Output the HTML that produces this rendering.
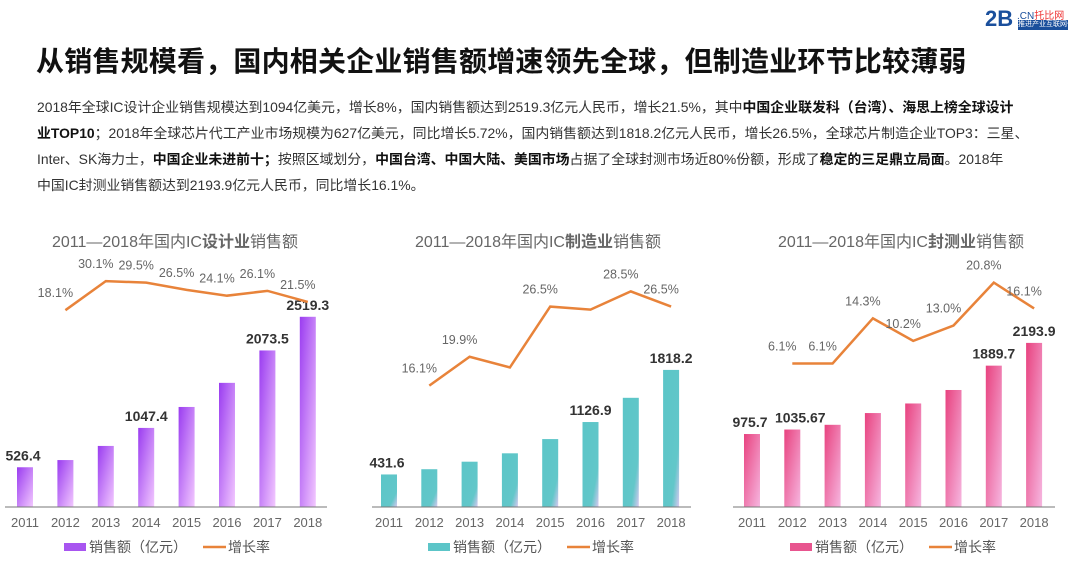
<!DOCTYPE html>
<html><head><meta charset="utf-8">
<style>
body{margin:0;background:#fff;}
#wrap{position:relative;width:1080px;height:571px;overflow:hidden;background:#fff;font-family:"Liberation Sans","Noto Sans CJK SC",sans-serif;}
#title{position:absolute;left:36px;top:40px;font-size:28px;font-weight:bold;color:#111;white-space:nowrap;letter-spacing:0.2px;}
.p{position:absolute;left:37px;font-size:13.9px;color:#333;white-space:nowrap;}
.p b{color:#111;}
#logo{position:absolute;left:985px;top:6px;}
svg text{font-family:"Liberation Sans","Noto Sans CJK SC",sans-serif;}
</style></head><body>
<div id="wrap">
<div id="logo">
<span style="position:absolute;left:0;top:0;font-size:22px;color:#1a4f9c;font-weight:bold;">2B</span>
<span style="position:absolute;left:32px;top:1px;font-size:10px;color:#1a4f9c;white-space:nowrap;">.CN<span style="color:#e33;">托比网</span></span>
<span style="position:absolute;left:33px;top:14px;width:50px;height:10px;background:#1a4f9c;font-size:7px;color:#fff;white-space:nowrap;line-height:10px;">推进产业互联网化</span>
</div>
<div id="title">从销售规模看，国内相关企业销售额增速领先全球，但制造业环节比较薄弱</div>
<div class="p" style="top:97px">2018年全球IC设计企业销售规模达到1094亿美元，增长8%，国内销售额达到2519.3亿元人民币，增长21.5%，其中<b>中国企业联发科（台湾）、海思上榜全球设计</b></div>
<div class="p" style="top:123px"><b>业TOP10</b>；2018年全球芯片代工产业市场规模为627亿美元，同比增长5.72%，国内销售额达到1818.2亿元人民币，增长26.5%，全球芯片制造企业TOP3：三星、</div>
<div class="p" style="top:149px">Inter、SK海力士，<b>中国企业未进前十；</b>按照区域划分，<b>中国台湾、中国大陆、美国市场</b>占据了全球封测市场近80%份额，形成了<b>稳定的三足鼎立局面</b>。2018年</div>
<div class="p" style="top:175px">中国IC封测业销售额达到2193.9亿元人民币，同比增长16.1%。</div>
<svg id="charts" width="1080" height="571" style="position:absolute;left:0;top:0">
<defs>
<linearGradient id="g0" x1="0" y1="0" x2="1" y2="1"><stop offset="0" stop-color="#9a3cf0"/><stop offset="1" stop-color="#f3c8ff"/></linearGradient>
<linearGradient id="g1" x1="0" y1="0" x2="1" y2="1"><stop offset="0" stop-color="#5bc5c8"/><stop offset="0.75" stop-color="#62c7c9"/><stop offset="1" stop-color="#d8c8f0"/></linearGradient>
<linearGradient id="g2" x1="0" y1="0" x2="1" y2="1"><stop offset="0" stop-color="#e8427f"/><stop offset="1" stop-color="#f6b6e0"/></linearGradient>
</defs>
</svg>
</div>
<script>
const years = ['2011','2012','2013','2014','2015','2016','2017','2018'];
const designSales = [526.4, 621.7, 808.8, 1047.4, 1325.0, 1644.3, 2073.5, 2519.3];
const designGrowth = [null, 18.1, 30.1, 29.5, 26.5, 24.1, 26.1, 21.5];
const designShown = [true,false,false,true,false,false,true,true];
const designPctShown = [false,true,true,true,true,true,true,true];
const mfgSales = [431.6, 501.1, 600.9, 712.1, 900.8, 1126.9, 1448.1, 1818.2];
const mfgGrowth = [null, 16.1, 19.9, 18.5, 26.5, 26.1, 28.5, 26.5];
const mfgShown = [true,false,false,false,false,true,false,true];
const mfgPctShown = [false,true,true,false,true,false,true,true];
const testSales = [975.7, 1035.67, 1098.9, 1255.9, 1384.0, 1564.3, 1889.7, 2193.9];
const testGrowth = [null, 6.1, 6.1, 14.3, 10.2, 13.0, 20.8, 16.1];
const testShown = [true,true,false,false,false,false,true,true];
const testPctShown = [false,true,true,true,true,true,true,true];
const chartTitles = [['2011—2018年国内IC','设计业','销售额'],['2011—2018年国内IC','制造业','销售额'],['2011—2018年国内IC','封测业','销售额']];

const NS='http://www.w3.org/2000/svg';
const svg=document.getElementById('charts');
function mk(tag,attrs,parent){const e=document.createElementNS(NS,tag);for(const k in attrs)e.setAttribute(k,attrs[k]);(parent||svg).appendChild(e);return e;}

const cfgs=[
 {sales:designSales,growth:designGrowth,shown:designShown,pct:designPctShown,x0:25,dx:40.4,axisL:5,axisR:327,bs:0.0755,lz:354,lk:2.42,grad:'g0',leg:'#a855f0',lx:64,tx:175},
 {sales:mfgSales,growth:mfgGrowth,shown:mfgShown,pct:mfgPctShown,x0:389,dx:40.3,axisL:372,axisR:691,bs:0.0754,lz:508,lk:7.6,grad:'g1',leg:'#5cc5c8',lx:428,tx:538},
 {sales:testSales,growth:testGrowth,shown:testShown,pct:testPctShown,x0:752,dx:40.3,axisL:733,axisR:1055,bs:0.0748,lz:397,lk:5.5,grad:'g2',leg:'#e8558f',lx:790,tx:901}
];
const base=507;
cfgs.forEach((c,ci)=>{
 const g=mk('g',{});
 
 
 const xs=i=>c.x0+i*c.dx;
 const yb=v=>base-v*c.bs;
 const yl=p=>c.lz-p*c.lk;
 const t=mk('text',{x:c.tx,y:247,'font-size':16,fill:'#666','text-anchor':'middle'},g);
 
 
 chartTitles[ci].forEach((s,k)=>{const ts=mk('tspan',{'font-weight':k==1?'bold':'normal'},t);ts.textContent=s;});
 c.sales.forEach((v,i)=>{
  const r=mk('rect',{x:xs(i)-8,y:yb(v),width:16,height:base-yb(v),fill:'url(#'+c.grad+')'},g);
  
  
  if(c.shown[i]){
   const lbl=mk('text',{x:xs(i)+(i==0?-2:(ci==2&&i==1?8:0)),y:yb(v)-7,'font-size':14,'font-weight':'bold',fill:'#333','text-anchor':'middle'},g);
   
   
   lbl.textContent=String(v);
  }
  const yt=mk('text',{x:xs(i),y:527,'font-size':13,fill:'#666','text-anchor':'middle'},g);
  
  
  yt.textContent=years[i];
 });
 const ax=mk('line',{x1:c.axisL,x2:c.axisR,y1:base,y2:base,stroke:'#777','stroke-width':1},g);
 
 
 let d='';
 c.growth.forEach((p,i)=>{if(p==null)return;d+=(d?'L':'M')+xs(i)+' '+yl(p);});
 const pl=mk('path',{d:d,fill:'none',stroke:'#e8833a','stroke-width':2.5},g);
 
 
 c.growth.forEach((p,i)=>{if(p==null||!c.pct[i])return;
  const lt=mk('text',{x:xs(i)-10,y:yl(p)-13,'font-size':12.5,fill:'#666','text-anchor':'middle'},g);
  
  
  lt.textContent=p.toFixed(1)+'%';
 });
 const lr=mk('rect',{x:c.lx,y:543,width:22,height:8,fill:c.leg},g);
 
 
 const l1=mk('text',{x:c.lx+25,y:552,'font-size':14,fill:'#555'},g);
 
 
 l1.textContent='销售额（亿元）';
 const ll=mk('line',{x1:c.lx+139,x2:c.lx+162,y1:547,y2:547,stroke:'#e8833a','stroke-width':2.5},g);
 
 
 const l2=mk('text',{x:c.lx+164,y:552,'font-size':14,fill:'#555'},g);
 
 
 l2.textContent='增长率';
});
</script>
</body></html>
